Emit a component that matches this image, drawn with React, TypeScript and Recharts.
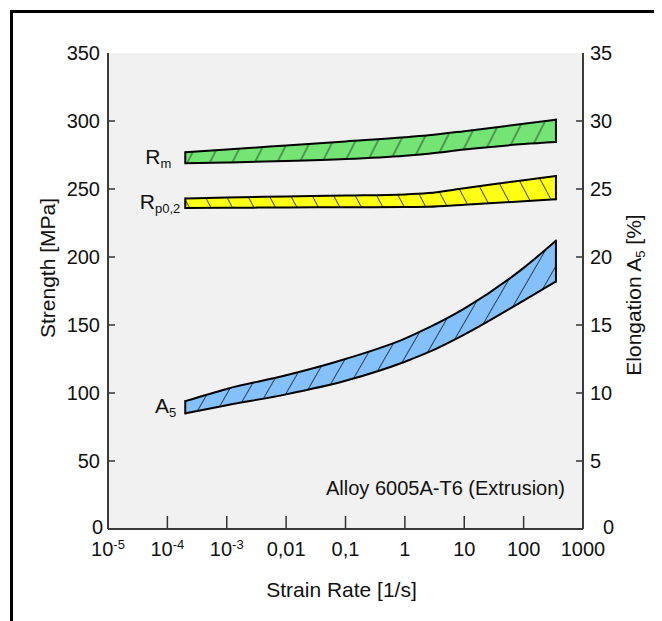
import React from 'react';
import {
  ComposedChart,
  Area,
  Line,
  XAxis,
  YAxis,
  CartesianGrid,
  ReferenceLine,
  ReferenceDot,
  Label,
} from 'recharts';

// ---- data ----
const strainRates = [2e-4, 1e-3, 0.01, 0.1, 1, 2.5, 10, 100, 350];
const rmUpper = [277, 279, 282, 285, 288, 289.5, 292.5, 298, 301];
const rmLower = [269, 269.5, 270.5, 272, 274.5, 276, 279, 283, 284.5];
const rpUpper = [243, 243.8, 244.5, 245.2, 246, 247, 250.5, 256.5, 259.5];
const rpLower = [236, 236.2, 236.4, 236.6, 236.8, 237, 238.5, 241, 242.5];
const a5Upper = [9.4, 10.3, 11.3, 12.5, 14.0, 14.8, 16.2, 19.2, 21.2];
const a5Lower = [8.5, 9.1, 9.9, 10.9, 12.3, 13.0, 14.3, 16.8, 18.2];

const xTicks = [1e-5, 1e-4, 1e-3, 0.01, 0.1, 1, 10, 100, 1000];
const xTickLabels = [
  ['10', '-5'],
  ['10', '-4'],
  ['10', '-3'],
  ['0,01'],
  ['0,1'],
  ['1'],
  ['10'],
  ['100'],
  ['1000'],
];
const strengthTicks = [0, 50, 100, 150, 200, 250, 300, 350];
const elongationTicks = [0, 5, 10, 15, 20, 25, 30, 35];

const xTitle = 'Strain Rate [1/s]';
const leftTitle = 'Strength [MPa]';
const rightTitleMain = 'Elongation A';
const rightTitleSub = '5';
const rightTitleEnd = ' [%]';
const annotation = 'Alloy 6005A-T6 (Extrusion)';

const data = strainRates.map((x, i) => ({
  x,
  rmLo: rmLower[i],
  rmHi: rmUpper[i],
  rpLo: rpLower[i],
  rpHi: rpUpper[i],
  a5Lo: a5Lower[i],
  a5Hi: a5Upper[i],
}));

const FONT = '"Liberation Sans", Arial, Helvetica, sans-serif';
const TXT = '#111';
const FRAME = '#3a3a3a';

const StrengthTick = (props: any) => {
  const { x, y, payload, index } = props;
  const last = strengthTicks.length - 1;
  const ax = x + 8;
  return (
    <g>
      {index > 0 && index < last && (
        <line x1={ax} x2={ax + 7} y1={y} y2={y} stroke="#333" strokeWidth={1.5} />
      )}
      <text
        x={x + (index === 0 ? 3 : 0)}
        y={y - (index === 0 ? 2 : 0)}
        dy="0.36em"
        textAnchor="end"
        fontSize={20}
        fill={TXT}
        fontFamily={FONT}
      >
        {payload.value}
      </text>
    </g>
  );
};

const ElongTick = (props: any) => {
  const { x, y, payload, index } = props;
  const last = elongationTicks.length - 1;
  const ax = x - 7;
  return (
    <g>
      {index > 0 && index < last && (
        <line x1={ax} x2={ax - 7} y1={y} y2={y} stroke="#333" strokeWidth={1.5} />
      )}
      <text
        x={x + (index === 0 ? 13 : 0)}
        y={y - (index === 0 ? 2 : 0)}
        dy="0.36em"
        textAnchor="start"
        fontSize={20}
        fill={TXT}
        fontFamily={FONT}
      >
        {payload.value}
      </text>
    </g>
  );
};

const RateTick = (props: any) => {
  const { x, y, index } = props;
  const last = xTicks.length - 1;
  const lab = xTickLabels[index] || [''];
  const ay = y - 12;
  return (
    <g>
      {index > 0 && index < last && (
        <line x1={x} x2={x} y1={ay} y2={ay - 13} stroke="#333" strokeWidth={1.5} />
      )}
      <text x={x} y={y + 1} dy="0.71em" textAnchor="middle" fontSize={20} fill={TXT} fontFamily={FONT}>
        {lab[0]}
        {lab[1] && (
          <tspan fontSize={13} dy={-7}>
            {lab[1]}
          </tspan>
        )}
      </text>
    </g>
  );
};

const bandLabel = (main: string, sub: string, dx: number) => (p: any) => {
  const vb = p.viewBox || {};
  return (
    <text
      x={vb.x + dx}
      y={vb.y + 6}
      textAnchor="end"
      fontSize={21}
      fill={TXT}
      fontFamily={FONT}
    >
      {main}
      <tspan fontSize={13} dy={4}>
        {sub}
      </tspan>
    </text>
  );
};

const annotationLabel = (p: any) => {
  const vb = p.viewBox || {};
  return (
    <text x={vb.x - 18} y={vb.y} textAnchor="end" fontSize={20} fill={TXT} fontFamily={FONT}>
      {annotation}
    </text>
  );
};

export default function App() {
  return (
    <div style={{ position: 'relative', width: 654, height: 613 }}>
      <div
        style={{
          position: 'absolute',
          left: 2,
          top: 2,
          width: 649,
          height: 608,
          borderLeft: '3px solid #000',
          borderTop: '3px solid #000',
        }}
      />
      <ComposedChart
        width={654}
        height={613}
        data={data}
        margin={{ top: 45, right: 0, bottom: 0, left: 0 }}
        style={{ position: 'absolute', left: 0, top: 0 }}
      >
        <defs>
          <pattern id="hatchGreen" patternUnits="userSpaceOnUse" width="20" height="20" patternTransform="rotate(27)">
            <rect width="20" height="20" fill="#74e474" />
            <line x1="10" y1="0" x2="10" y2="20" stroke="#2b4a2b" strokeWidth="1" />
          </pattern>
          <pattern id="hatchYellow" patternUnits="userSpaceOnUse" width="19" height="19" patternTransform="rotate(-28)">
            <rect width="19" height="19" fill="#ffff14" />
            <line x1="9.5" y1="0" x2="9.5" y2="19" stroke="#4a4a2b" strokeWidth="1" />
          </pattern>
          <pattern id="hatchBlue" patternUnits="userSpaceOnUse" width="17" height="17" patternTransform="rotate(30)">
            <rect width="17" height="17" fill="#84c1fb" />
            <line x1="8.5" y1="0" x2="8.5" y2="17" stroke="#2b3f55" strokeWidth="1" />
          </pattern>
        </defs>
        <CartesianGrid yAxisId="left" fill="#f1f1f1" horizontal={false} vertical={false} />
        <XAxis
          dataKey="x"
          type="number"
          scale="log"
          domain={[1e-5, 1000]}
          ticks={xTicks}
          interval={0}
          allowDataOverflow
          height={92}
          tickSize={0}
          tickMargin={12}
          tickLine={false}
          axisLine={{ stroke: FRAME, strokeWidth: 2 }}
          tick={<RateTick />}
        >
          <Label
            content={(p: any) => {
              const vb = p.viewBox || {};
              return (
                <text
                  x={vb.x + vb.width / 2 - 4}
                  y={vb.y + 68}
                  textAnchor="middle"
                  fontSize={21}
                  fill={TXT}
                  fontFamily={FONT}
                >
                  {xTitle}
                </text>
              );
            }}
          />
        </XAxis>
        <XAxis
          xAxisId="top"
          orientation="top"
          type="number"
          scale="log"
          domain={[1e-5, 1000]}
          height={0}
          tick={false}
          tickLine={false}
          axisLine={{ stroke: FRAME, strokeWidth: 2 }}
        />
        <YAxis
          yAxisId="left"
          type="number"
          domain={[0, 350]}
          ticks={strengthTicks}
          interval={0}
          width={100}
          tickSize={0}
          tickMargin={8}
          tickLine={false}
          axisLine={{ stroke: FRAME, strokeWidth: 2 }}
          tick={<StrengthTick />}
        >
          <Label
            content={(p: any) => {
              const vb = p.viewBox || {};
              const cx = vb.x + 40;
              const cy = vb.y + vb.height / 2 - 23;
              return (
                <text
                  transform={`translate(${cx},${cy}) rotate(-90)`}
                  dy="0.35em"
                  textAnchor="middle"
                  fontSize={21}
                  fill={TXT}
                  fontFamily={FONT}
                >
                  {leftTitle}
                </text>
              );
            }}
          />
        </YAxis>
        <YAxis
          yAxisId="right"
          orientation="right"
          type="number"
          domain={[0, 35]}
          ticks={elongationTicks}
          interval={0}
          width={79}
          tickSize={0}
          tickMargin={7}
          tickLine={false}
          axisLine={{ stroke: FRAME, strokeWidth: 2 }}
          tick={<ElongTick />}
        >
          <Label
            content={(p: any) => {
              const vb = p.viewBox || {};
              const cx = vb.x + 51;
              const cy = vb.y + vb.height / 2 + 4;
              return (
                <text
                  transform={`translate(${cx},${cy}) rotate(-90)`}
                  dy="0.35em"
                  textAnchor="middle"
                  fontSize={21}
                  fill={TXT}
                  fontFamily={FONT}
                >
                  {rightTitleMain}
                  <tspan fontSize={13} dy={4}>
                    {rightTitleSub}
                  </tspan>
                  <tspan dy={-4}>{rightTitleEnd}</tspan>
                </text>
              );
            }}
          />
        </YAxis>

        <Area
          yAxisId="left"
          type="monotone"
          dataKey={(d: any) => [d.rmLo, d.rmHi]}
          fill="url(#hatchGreen)"
          fillOpacity={1}
          stroke="none"
          isAnimationActive={false}
        />
        <Area
          yAxisId="left"
          type="monotone"
          dataKey={(d: any) => [d.rpLo, d.rpHi]}
          fill="url(#hatchYellow)"
          fillOpacity={1}
          stroke="none"
          isAnimationActive={false}
        />
        <Area
          yAxisId="right"
          type="monotone"
          dataKey={(d: any) => [d.a5Lo, d.a5Hi]}
          fill="url(#hatchBlue)"
          fillOpacity={1}
          stroke="none"
          isAnimationActive={false}
        />

        <Line yAxisId="left" type="monotone" dataKey="rmHi" stroke="#000" strokeWidth={2} dot={false} activeDot={false} isAnimationActive={false} />
        <Line yAxisId="left" type="monotone" dataKey="rmLo" stroke="#000" strokeWidth={2} dot={false} activeDot={false} isAnimationActive={false} />
        <Line yAxisId="left" type="monotone" dataKey="rpHi" stroke="#000" strokeWidth={2} dot={false} activeDot={false} isAnimationActive={false} />
        <Line yAxisId="left" type="monotone" dataKey="rpLo" stroke="#000" strokeWidth={2} dot={false} activeDot={false} isAnimationActive={false} />
        <Line yAxisId="right" type="monotone" dataKey="a5Hi" stroke="#000" strokeWidth={2} dot={false} activeDot={false} isAnimationActive={false} />
        <Line yAxisId="right" type="monotone" dataKey="a5Lo" stroke="#000" strokeWidth={2} dot={false} activeDot={false} isAnimationActive={false} />

        {[
          { axis: 'left', lo: rmLower, hi: rmUpper },
          { axis: 'left', lo: rpLower, hi: rpUpper },
          { axis: 'right', lo: a5Lower, hi: a5Upper },
        ].flatMap((b, k) =>
          [0, strainRates.length - 1].map((i) => (
            <ReferenceLine
              key={`edge-${k}-${i}`}
              yAxisId={b.axis}
              ifOverflow="visible"
              segment={[
                { x: strainRates[i], y: b.lo[i] },
                { x: strainRates[i], y: b.hi[i] },
              ]}
              stroke="#000"
              strokeWidth={2}
              strokeLinecap="square"
            />
          ))
        )}

        <ReferenceDot
          yAxisId="left"
          x={strainRates[0]}
          y={(rmUpper[0] + rmLower[0]) / 2}
          r={0}
          fill="none"
          stroke="none"
          ifOverflow="visible"
          label={<Label content={bandLabel('R', 'm', -14)} />}
        />
        <ReferenceDot
          yAxisId="left"
          x={strainRates[0]}
          y={(rpUpper[0] + rpLower[0]) / 2}
          r={0}
          fill="none"
          stroke="none"
          ifOverflow="visible"
          label={<Label content={bandLabel('R', 'p0,2', -5)} />}
        />
        <ReferenceDot
          yAxisId="right"
          x={strainRates[0]}
          y={(a5Upper[0] + a5Lower[0]) / 2}
          r={0}
          fill="none"
          stroke="none"
          ifOverflow="visible"
          label={<Label content={bandLabel('A', '5', -9)} />}
        />
        <ReferenceDot
          yAxisId="left"
          x={1000}
          y={25}
          r={0}
          fill="none"
          stroke="none"
          ifOverflow="visible"
          label={<Label content={annotationLabel} />}
        />
      </ComposedChart>
    </div>
  );
}
